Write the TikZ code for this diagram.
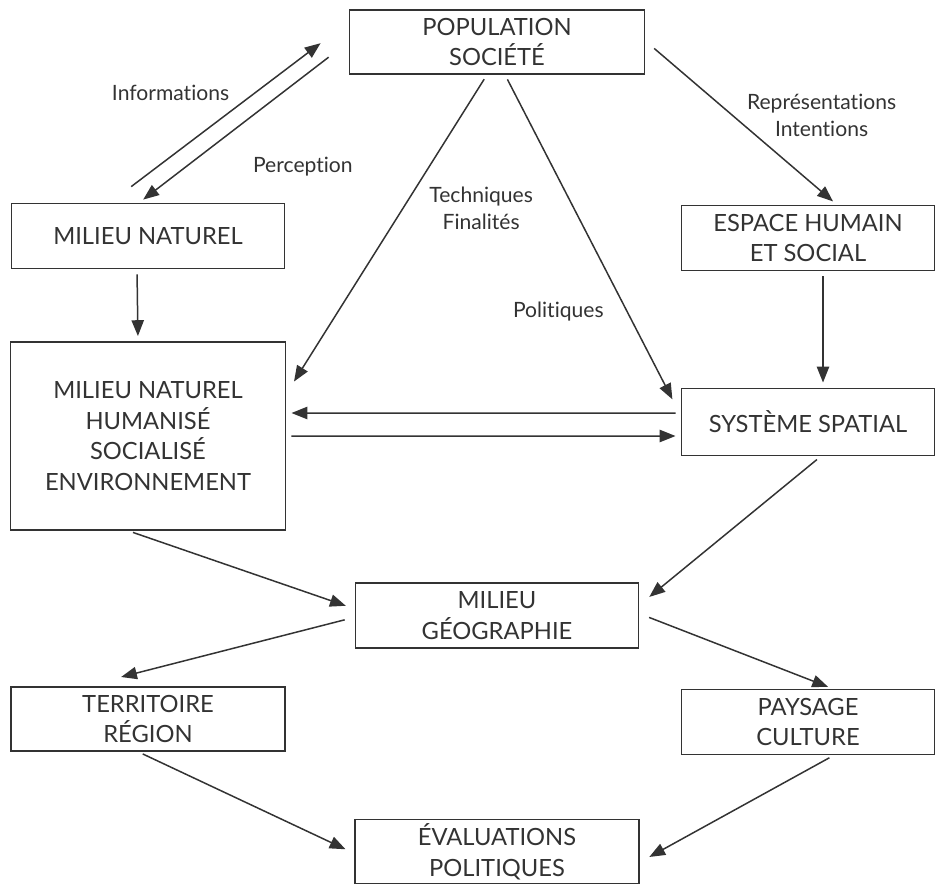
\documentclass[tikz,border=0pt]{standalone}
\usepackage{fontspec}
\setmainfont{Lato}[Ligatures=NoCommon]
\usetikzlibrary{positioning,arrows.meta}

\definecolor{ink}{HTML}{333333}

\begin{document}
\begin{tikzpicture}[shorten >=3pt, shorten <=3pt, node distance=4cm, on grid,
   box/.style={draw=ink, line width=0.8pt, align=center, text=ink,
               inner sep=0pt, font=\fontsize{13.5}{17.5}\selectfont},
   lbl/.style={text=ink, align=center, font=\fontsize{12}{15.5}\selectfont}]
   \useasboundingbox (-9.94,0.84) rectangle (8.8,-16.88);
   \node[box, minimum width=5.9cm, minimum height=1.28cm] (pop) {POPULATION\\SOCIÉTÉ};
   \node[box, minimum width=5.46cm, minimum height=1.3cm] (nat) [below left=3.88cm and 6.98cm of pop] {MILIEU NATUREL};
   \node[box, minimum width=5.06cm, minimum height=1.3cm] (esp) [below right=3.92cm and 6.22cm of pop] {ESPACE HUMAIN\\ET SOCIAL};
   \node[box, minimum width=5.5cm, minimum height=3.76cm] (hum) [below=4cm of nat] {MILIEU NATUREL\\HUMANISÉ\\SOCIALISÉ\\ENVIRONNEMENT};
   \node[box, minimum width=5.06cm, minimum height=1.34cm] (sys) [below=3.68cm of esp] {SYSTÈME SPATIAL};
   \node[box, minimum width=5.66cm, minimum height=1.3cm] (geo) [below=11.47cm of pop] {MILIEU\\GÉOGRAPHIE};
   \node[box, minimum width=5.48cm, minimum height=1.28cm] (ter) [below=5.66cm of hum] {TERRITOIRE\\RÉGION};
   \node[box, minimum width=5.06cm, minimum height=1.3cm] (pay) [below=6cm of sys] {PAYSAGE\\CULTURE};
   \node[box, minimum width=5.68cm, minimum height=1.28cm] (eva) [below=4.72cm of geo] {ÉVALUATIONS\\POLITIQUES};
    \path[color=ink, line width=0.85pt, -{Triangle[length=9pt,width=7pt]}]
    ([shift={(-0.42,0.26)}]nat.north) edge node[lbl, pos=0.55, above left] {Informations} ([shift={(-0.48,0.04)}]pop.west)
    ([shift={(-0.32,-0.24)}]pop.west) edge node[lbl, pos=0.6, below right, xshift=0.6cm, yshift=-0.14cm] {Perception} ([xshift=-0.18cm]nat.north)
    ([xshift=-0.22cm]nat.south) edge ([xshift=-0.2cm]hum.north)
    ([xshift=-0.2cm]pop.south) edge node[lbl, pos=0.43, right, xshift=0.4cm] {Techniques\\Finalités} ([shift={(0.1,1.0)}]hum.east)
    ([xshift=0.16cm]pop.south) edge node[lbl, pos=0.72, left, xshift=-0.34cm] {Politiques} ([shift={(-0.12,0.36)}]sys.west)
    ([shift={(0.1,-0.06)}]pop.east) edge node[lbl, pos=0.44, right, xshift=0.16cm] {Représentations\\Intentions} ([xshift=0.58cm]esp.north)
    ([xshift=0.3cm]esp.south) edge ([xshift=0.3cm]sys.north)
    ([yshift=0.18cm]sys.west) edge ([yshift=0.46cm]hum.east)
    (hum.east) edge ([yshift=-0.28cm]sys.west)
    ([xshift=-0.4cm]hum.south) edge ([shift={(-0.08,0.16)}]geo.west)
    ([xshift=0.26cm]sys.south) edge ([shift={(0.12,-0.36)}]geo.north east)
    ([shift={(-0.1,-0.06)}]geo.west) edge ([shift={(-0.64,0.16)}]ter.north)
    ([xshift=0.1cm]geo.east) edge ([xshift=0.5cm]pay.north)
    ([xshift=-0.2cm]ter.south) edge ([xshift=-0.08cm]eva.west)
    ([xshift=0.52cm]pay.south) edge ([shift={(0.1,-0.16)}]eva.east);
\end{tikzpicture}
\end{document}
